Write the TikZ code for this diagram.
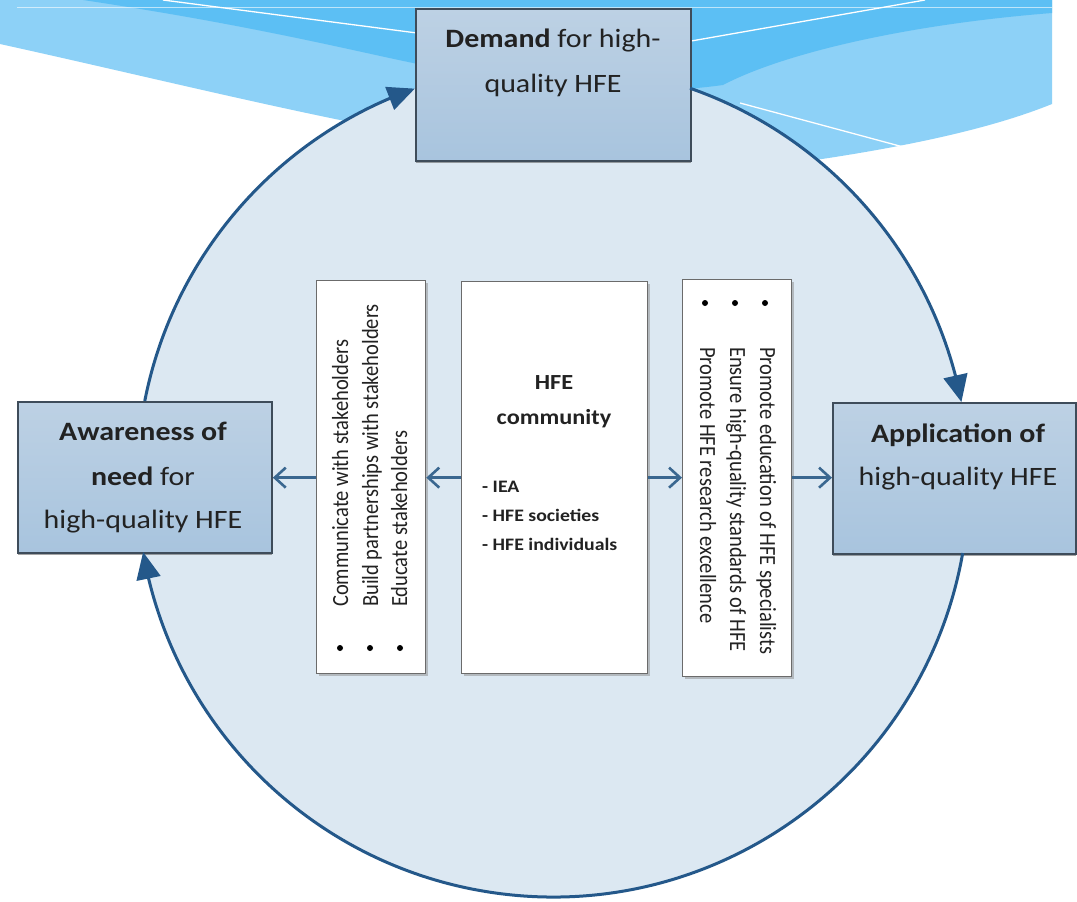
\documentclass[tikz,border=0pt]{standalone}
\usepackage{fontspec}
\setmainfont{Carlito}
\usepackage{graphicx}
\usetikzlibrary{arrows.meta,bending,shadows}
\definecolor{bannerdark}{HTML}{5CBFF4}
\definecolor{bannerlight}{HTML}{8DD1F7}
\definecolor{circfill}{HTML}{DCE8F2}
\definecolor{cycblue}{HTML}{24588A}
\definecolor{boxtop}{HTML}{BDD1E4}
\definecolor{boxbot}{HTML}{A8C4DE}
\definecolor{boxedge}{HTML}{3E4C5A}
\definecolor{inedge}{HTML}{6B6B6B}
\definecolor{harrowc}{HTML}{3A6790}
\definecolor{txtc}{HTML}{222222}
\newcommand{\hstretch}[1]{\scalebox{1.13}[1]{#1}}
\newcommand{\vstretch}[1]{\scalebox{1}[1.13]{#1}}
\begin{document}
\begin{tikzpicture}[x=1pt,y=1pt,
  bigbox/.style={draw=boxedge, line width=1.8pt, top color=boxtop, bottom color=boxbot,
    inner sep=0pt, drop shadow={shadow xshift=0.5pt, shadow yshift=-2.5pt, fill=black!70, opacity=0.5}},
  inbox/.style={draw=inedge, line width=1.3pt, fill=white, inner sep=0pt,
    drop shadow={shadow xshift=2pt, shadow yshift=-2.5pt, fill=black!45, opacity=0.5}},
  bigtxt/.style={inner sep=0pt, text=txtc, font=\fontsize{26.5}{30}\selectfont},
  midtitle/.style={inner sep=0pt, text=txtc, font=\fontsize{21.5}{25}\selectfont\bfseries},
  midlist/.style={inner sep=0pt, text=txtc, font=\fontsize{17.5}{21}\selectfont\bfseries},
  sidetxt/.style={inner sep=0pt, text=txtc, font=\fontsize{20.5}{24}\selectfont},
  bul/.style={circle, fill=black, inner sep=0pt, minimum size=6pt},
  cyc/.style={draw=cycblue, line width=3pt, -{Triangle[length=27pt,width=24pt]}},
  harrow/.style={draw=harrowc, line width=2.6pt, -{Straight Barb[length=11pt,width=20pt]}}]
\useasboundingbox (0,0) rectangle (1077,-902);
\fill[white] (0,0) rectangle (1077,-902);
% banner
\fill[bannerlight] (0,0) -- (1052,0) -- (1052,-104) .. controls (1000,-125) and (930,-142) .. (835,-157)
  .. controls (600,-195) and (300,-110) .. (0,-44) -- cycle;
\fill[bannerdark] (83,0) .. controls (250,-25) and (350,-50) .. (413,-63)
  .. controls (550,-95) and (650,-95) .. (723,-85)
  .. controls (780,-55) and (900,-25) .. (1052,-13) -- (1052,0) -- cycle;
\draw[white, line width=1.3pt] (163,0) -- (440,-36);
\draw[white, line width=1.3pt] (600,-57) -- (925,0);
\draw[white, line width=1.3pt] (740,-103) -- (907,-148);
\draw[white, opacity=0.6, line width=1pt] (17,-7) -- (1052,-7);
% circle
\coordinate (C) at (553,-481);
\fill[circfill] (C) circle[radius=416];
% boxes
\node[bigbox, anchor=north west, minimum width=275pt, minimum height=152pt] (demand) at (415,-8) {};
\node[bigbox, anchor=north west, minimum width=254pt, minimum height=151pt] (aware) at (17,-401) {};
\node[bigbox, anchor=north west, minimum width=243pt, minimum height=151pt] (appl) at (832,-402) {};
\node[inbox, anchor=north west, minimum width=109pt, minimum height=393pt] (lbox) at (316,-280) {};
\node[inbox, anchor=north west, minimum width=186pt, minimum height=392pt] (hfe) at (461,-281) {};
\node[inbox, anchor=north west, minimum width=109pt, minimum height=397pt] (rbox) at (682,-279) {};
% cycle arcs
\path (C) ++(168.91:416) coordinate (s1);
\path (C) ++(70.77:416) coordinate (s2);
\path (C) ++(-9.97:416) coordinate (s3);
\draw[cyc] (s1) arc[start angle=168.91, end angle=109.4, radius=416];
\draw[cyc] (s2) arc[start angle=70.77, end angle=10.95, radius=416];
\draw[cyc] (s3) arc[start angle=-9.97, end angle=-170.17, radius=416];
% horizontal arrows
\draw[harrow] (hfe.west) -- (hfe.west -| lbox.east);
\draw[harrow] (hfe.west -| lbox.west) -- (hfe.west -| aware.east);
\draw[harrow] (hfe.east) -- (hfe.east -| rbox.west);
\draw[harrow] (hfe.east -| rbox.east) -- (hfe.east -| appl.west);
% big box texts
\node[bigtxt, anchor=base] (de1) at (553,-47) {\hstretch{\textbf{Demand} for high-}};
\node[bigtxt, anchor=base] (de2) at (553,-92) {\hstretch{quality HFE}};
\node[bigtxt, anchor=base] (aw1) at (143,-440) {\hstretch{\textbf{Awareness of}}};
\node[bigtxt, anchor=base] (aw2) at (143,-485) {\hstretch{\textbf{need} for}};
\node[bigtxt, anchor=base] (aw3) at (143,-528) {\hstretch{high-quality HFE}};
\node[bigtxt, anchor=base] (ap1) at (958,-442) {\hstretch{\textbf{Application of}}};
\node[bigtxt, anchor=base] (ap2) at (958,-485) {\hstretch{high-quality HFE}};
% centre box texts
\node[midtitle, anchor=base] (h1) at (554,-389) {\hstretch{HFE}};
\node[midtitle, anchor=base] (h2) at (554,-424) {\hstretch{community}};
\node[midlist, anchor=base west] (i1) at (482,-492) {\hstretch{- IEA}};
\node[midlist, anchor=base west] (i2) at (482,-521) {\hstretch{- HFE societies}};
\node[midlist, anchor=base west] (i3) at (482,-550) {\hstretch{- HFE individuals}};
% left box texts
\node[sidetxt, rotate=90, anchor=base west] (l1) at (348,-607) {\vstretch{Communicate with stakeholders}};
\node[sidetxt, rotate=90, anchor=base west] (l2) at (378,-607) {\vstretch{Build partnerships with stakeholders}};
\node[sidetxt, rotate=90, anchor=base west] (l3) at (407,-607) {\vstretch{Educate stakeholders}};
\node[bul] (lb1) at (340,-648) {};
\node[bul] (lb2) at (370,-648) {};
\node[bul] (lb3) at (400,-648) {};
% right box texts
\node[sidetxt, rotate=-90, anchor=base west] (r1) at (760,-347) {\vstretch{Promote education of HFE specialists}};
\node[sidetxt, rotate=-90, anchor=base west] (r2) at (730,-347) {\vstretch{Ensure high-quality standards of HFE}};
\node[sidetxt, rotate=-90, anchor=base west] (r3) at (700,-347) {\vstretch{Promote HFE research excellence}};
\node[bul] (rb1) at (765,-303) {};
\node[bul] (rb2) at (735,-303) {};
\node[bul] (rb3) at (705,-303) {};
\end{tikzpicture}
\end{document}
